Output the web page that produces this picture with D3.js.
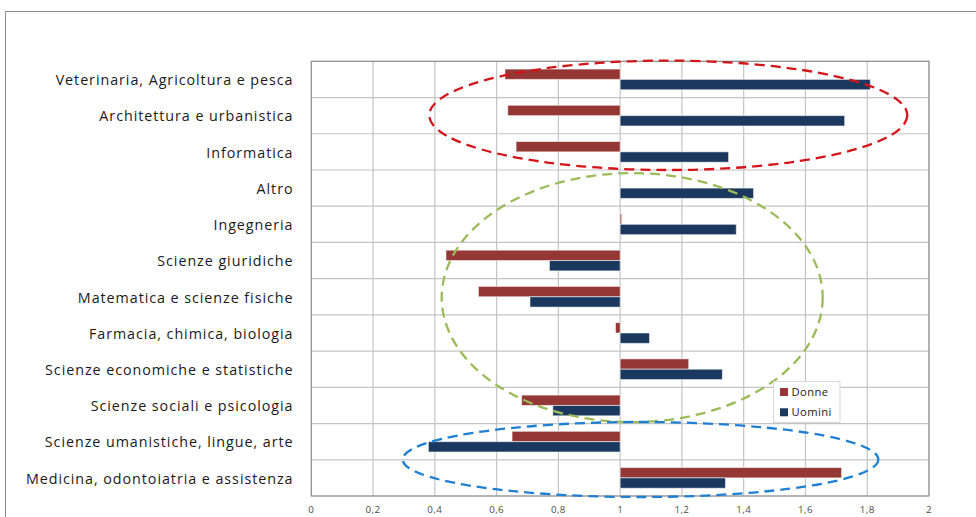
<!DOCTYPE html>
<html>
<head>
<meta charset="utf-8">
<script src="https://cdn.jsdelivr.net/npm/d3@7"></script>
<style>
  html, body { margin: 0; padding: 0; background: #fff; }
  svg { display: block; }
</style>
</head>
<body>
<svg id="chart" width="976" height="517"></svg>
<script>
// Fields of study, listed top to bottom
const categories = [
  "Veterinaria, Agricoltura e pesca",
  "Architettura e urbanistica",
  "Informatica",
  "Altro",
  "Ingegneria",
  "Scienze giuridiche",
  "Matematica e scienze fisiche",
  "Farmacia, chimica, biologia",
  "Scienze economiche e statistiche",
  "Scienze sociali e psicologia",
  "Scienze umanistiche, lingue, arte",
  "Medicina, odontoiatria e assistenza"
];
const seriesNames = ["Donne", "Uomini"];
const donne  = [0.627, 0.636, 0.663, 1.0, 1.005, 0.436, 0.541, 0.985, 1.222, 0.681, 0.650, 1.717];
const uomini = [1.810, 1.727, 1.351, 1.432, 1.376, 0.771, 0.708, 1.095, 1.331, 0.782, 0.379, 1.341];
const xTicks = [0, 0.2, 0.4, 0.6, 0.8, 1, 1.2, 1.4, 1.6, 1.8, 2];
const colors = { Donne: "#953735", Uomini: "#1b395f" };

const svg = d3.select("#chart");
const plot = { left: 311.3, right: 929, top: 61.3, bottom: 496 };

const x = d3.scaleLinear().domain([0, 2]).range([plot.left, plot.right]);
const y0 = d3.scaleBand().domain(categories).range([plot.top, plot.bottom]).padding(0);
const y1 = d3.scaleBand().domain(seriesNames).range([0, y0.bandwidth()]).paddingInner(0).paddingOuter(0.75);

// outer chart frame
svg.append("rect")
  .attr("x", 5.5).attr("y", 11.5).attr("width", 990).attr("height", 520)
  .attr("fill", "none").attr("stroke", "#8c8c8c").attr("stroke-width", 1);

// vertical gridlines
svg.append("g").selectAll("line").data(xTicks).join("line")
  .attr("x1", d => x(d)).attr("x2", d => x(d))
  .attr("y1", plot.top).attr("y2", plot.bottom)
  .attr("stroke", "#c4c4c4").attr("stroke-width", 1.2);

// horizontal gridlines at category boundaries
const hLines = categories.map(c => y0(c)).concat([plot.bottom]);
svg.append("g").selectAll("line").data(hLines).join("line")
  .attr("x1", plot.left).attr("x2", plot.right)
  .attr("y1", d => d).attr("y2", d => d)
  .attr("stroke", "#c4c4c4").attr("stroke-width", 1.2);

// plot border
svg.append("rect")
  .attr("x", plot.left).attr("y", plot.top)
  .attr("width", plot.right - plot.left).attr("height", plot.bottom - plot.top)
  .attr("fill", "none").attr("stroke", "#868686").attr("stroke-width", 1);

// bars, diverging from 1
const rows = categories.map((c, i) => ({ cat: c, values: [
  { s: "Donne", v: donne[i] }, { s: "Uomini", v: uomini[i] }
]}));
const groups = svg.append("g").selectAll("g").data(rows).join("g")
  .attr("transform", d => `translate(0,${y0(d.cat)})`);
groups.selectAll("rect").data(d => d.values.filter(e => e.v !== 1)).join("rect")
  .attr("x", d => Math.min(x(1), x(d.v)))
  .attr("width", d => Math.abs(x(d.v) - x(1)))
  .attr("y", d => y1(d.s))
  .attr("height", y1.bandwidth())
  .attr("fill", d => colors[d.s])
  .attr("stroke", "rgba(255,255,255,0.55)")
  .attr("stroke-width", 1);

// category labels
svg.append("g").selectAll("text").data(categories).join("text")
  .attr("x", 293.5)
  .attr("y", d => y0(d) + y0.bandwidth() / 2 + 0.8)
  .attr("dy", "0.35em")
  .attr("text-anchor", "end")
  .attr("font-family", "'Open Sans', sans-serif")
  .attr("font-size", 14.3)
  .attr("letter-spacing", 0.95)
  .attr("fill", "#1a1a1a")
  .text(d => d);

// x axis labels
const fmt = d => String(+d.toFixed(1)).replace(".", ",");
svg.append("g").selectAll("text").data(xTicks).join("text")
  .attr("x", d => x(d))
  .attr("y", 513)
  .attr("text-anchor", "middle")
  .attr("font-family", "'Open Sans', sans-serif")
  .attr("font-size", 9.8)
  .attr("letter-spacing", 0.4)
  .attr("fill", "#4d4d4d")
  .text(fmt);

// highlighted groups
const ellipses = [
  { cx: 668.3, cy: 115.3, rx: 239, ry: 54.7, color: "#d1151a" },
  { cx: 632.2, cy: 297.6, rx: 190.5, ry: 124.5, color: "#9bbb59" },
  { cx: 640.5, cy: 459.5, rx: 237.8, ry: 37.5, color: "#1f7fd2" }
];
svg.append("g").selectAll("ellipse").data(ellipses).join("ellipse")
  .attr("cx", d => d.cx).attr("cy", d => d.cy)
  .attr("rx", d => d.rx).attr("ry", d => d.ry)
  .attr("fill", "none")
  .attr("stroke", d => d.color)
  .attr("stroke-width", 2.3)
  .attr("stroke-dasharray", "10,6");

// legend
const legend = svg.append("g").attr("transform", "translate(773.5,381.5)");
legend.append("rect")
  .attr("width", 66.5).attr("height", 41)
  .attr("fill", "#fff").attr("stroke", "#d9d9d9");
const items = legend.selectAll("g").data(seriesNames).join("g")
  .attr("transform", (d, i) => `translate(6.5,${10.5 + i * 20.3})`);
items.append("rect")
  .attr("x", 0).attr("y", -4).attr("width", 8).attr("height", 8)
  .attr("fill", d => colors[d]);
items.append("text")
  .attr("x", 11.5).attr("dy", "0.35em")
  .attr("font-family", "'Open Sans', sans-serif")
  .attr("font-size", 11.2)
  .attr("letter-spacing", 0.4)
  .attr("fill", "#1a1a1a")
  .text(d => d);
</script>
</body>
</html>
